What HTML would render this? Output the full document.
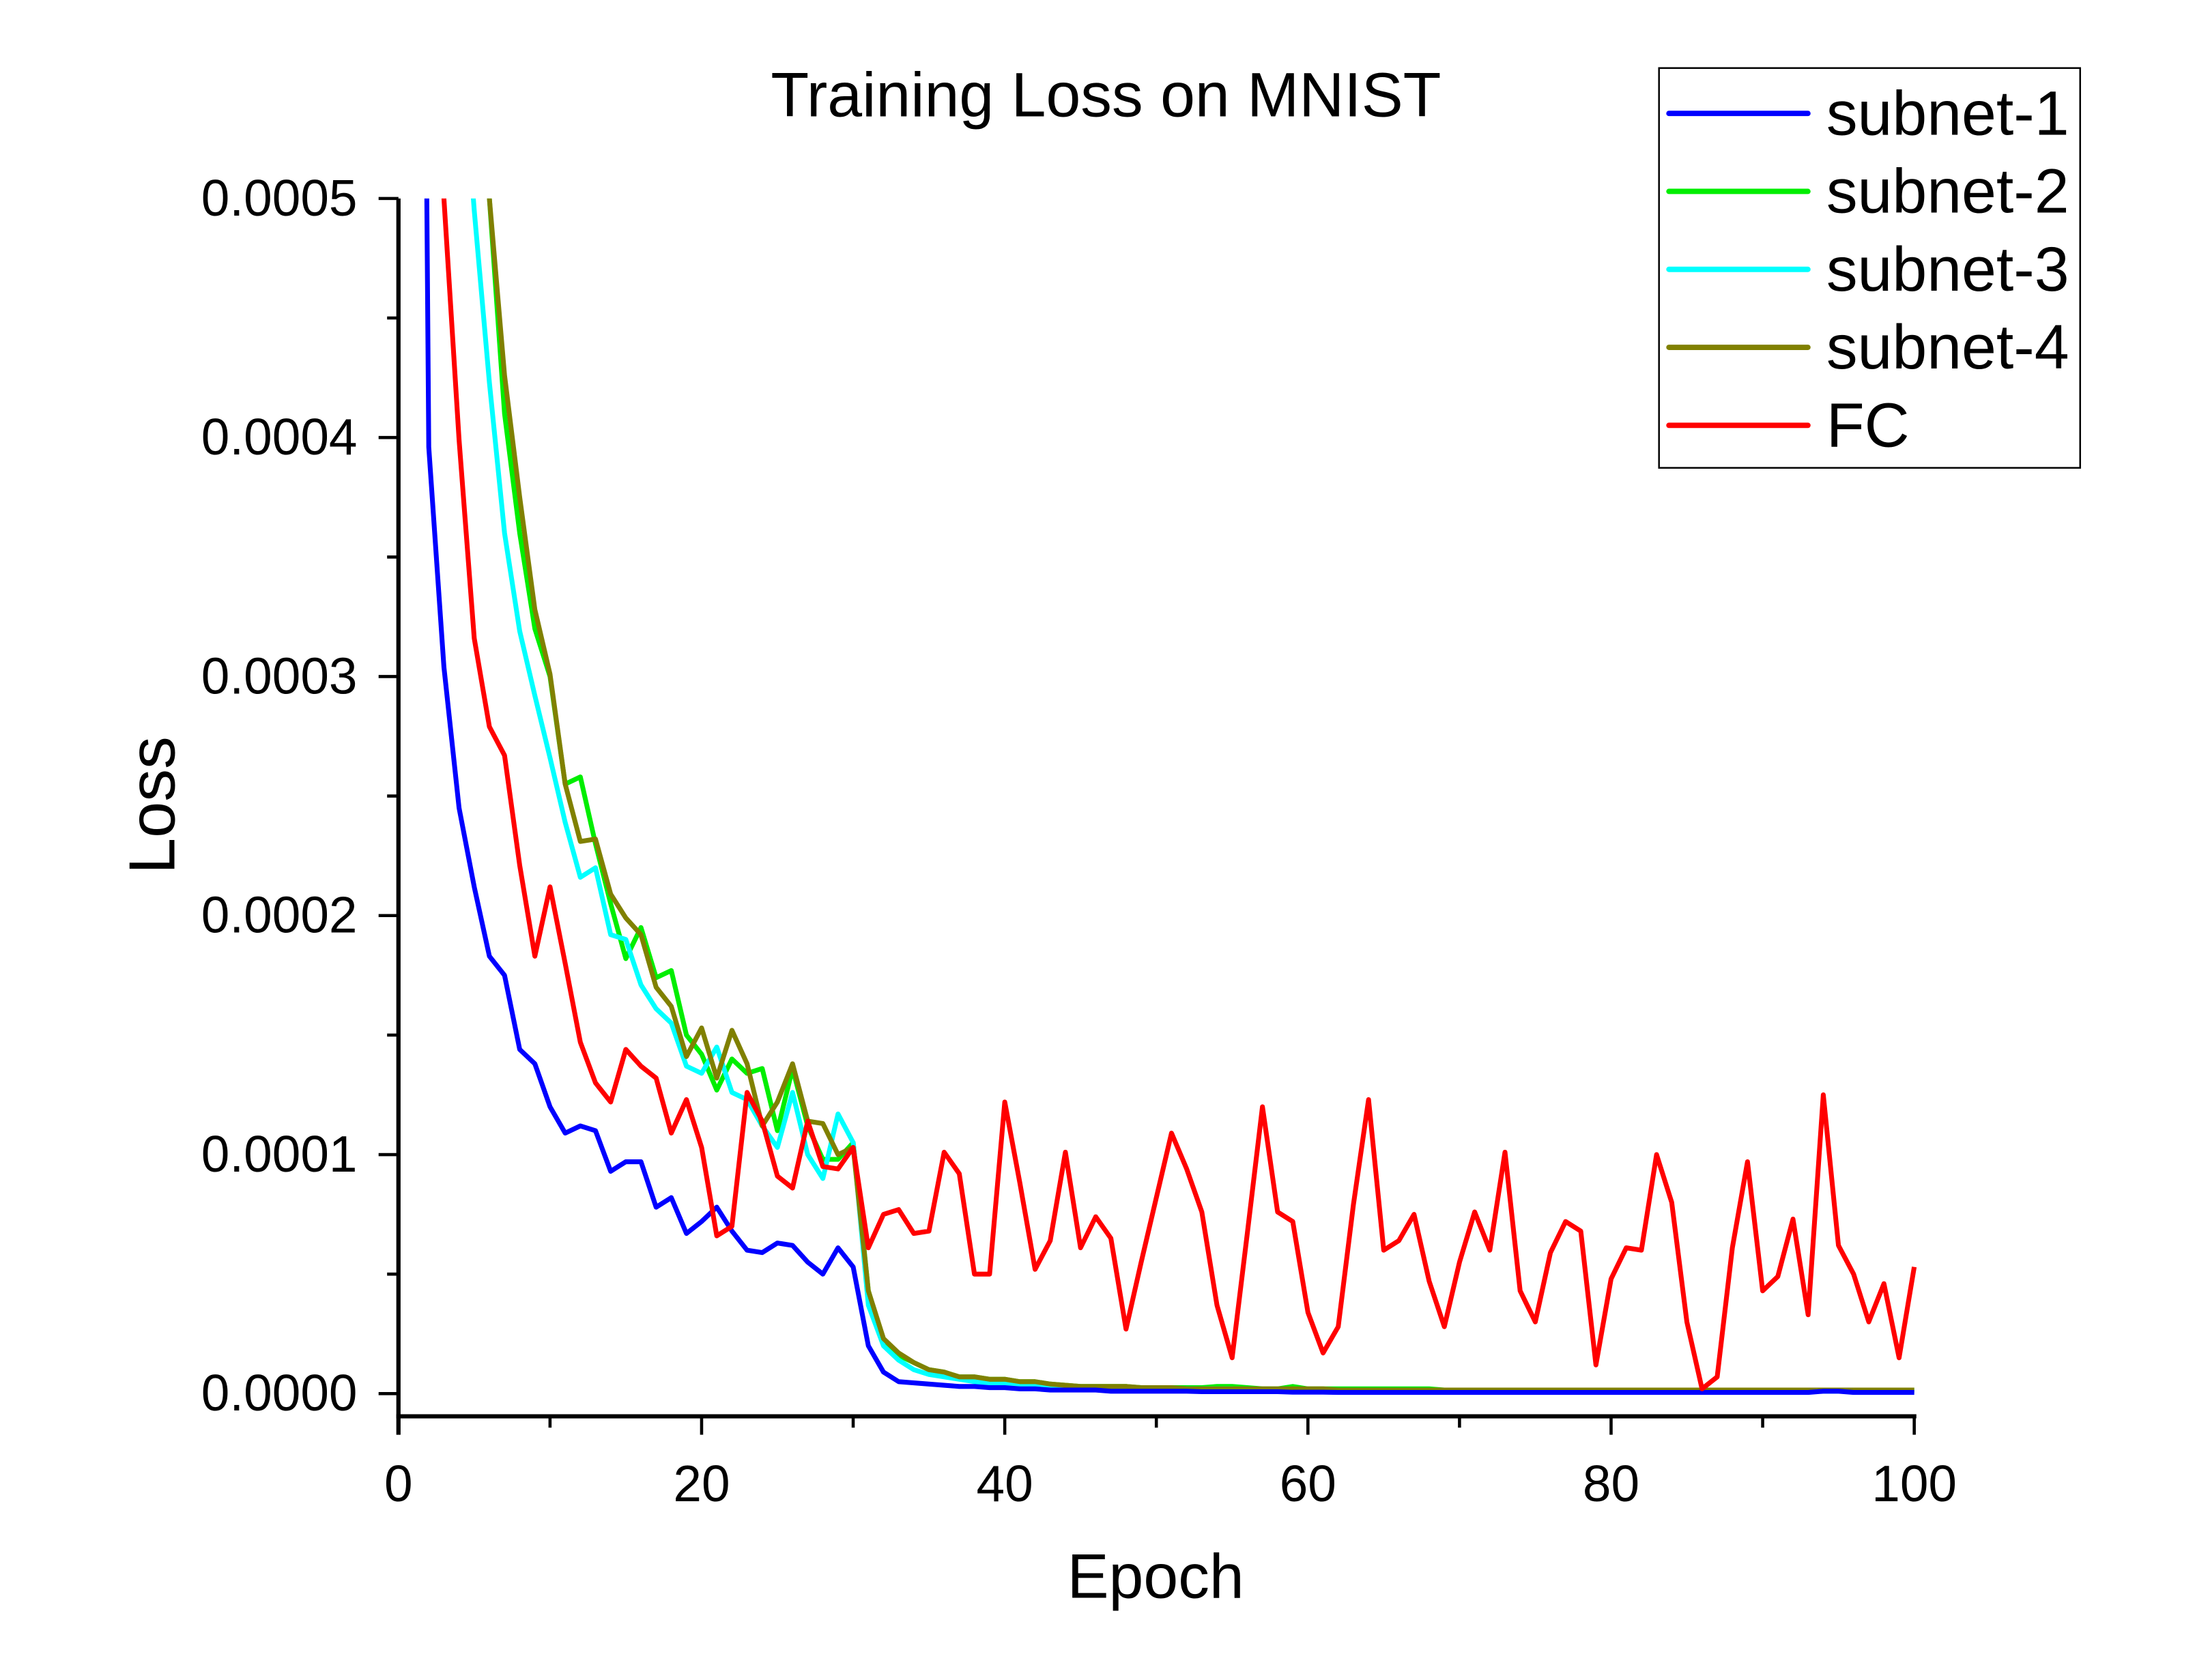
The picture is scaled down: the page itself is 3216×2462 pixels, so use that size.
<!DOCTYPE html>
<html><head><meta charset="utf-8"><style>
html,body{margin:0;padding:0;background:#fff;}
svg{display:block;font-family:"Liberation Sans",Arial,sans-serif;}
</style></head><body>
<svg id="chart" width="3216" height="2462" viewBox="0 0 1548 1185" preserveAspectRatio="none" xmlns="http://www.w3.org/2000/svg">
<defs><clipPath id="plotclip"><rect x="281" y="140" width="1075" height="860"/></clipPath></defs>
<rect width="1548" height="1185" fill="#fff"/>
<text x="780" y="82" font-size="44" text-anchor="middle">Training Loss on MNIST</text>
<g id="axes"></g>
<g id="series" clip-path="url(#plotclip)"></g>
<text x="815" y="1127" font-size="44" text-anchor="middle">Epoch</text>
<text transform="translate(123,568) rotate(-90)" font-size="46" text-anchor="middle">Loss</text>
<g>
<rect x="1170" y="48" width="297" height="282" fill="#fff" stroke="#000" stroke-width="1.2"/>
<g id="legend-items"></g>
</g>
</svg>
<script>
const epochs = Array.from({length:100},(_, i)=>i+1);
const xTicks = [0,20,40,60,80,100];
const yTicks = [0,0.0001,0.0002,0.0003,0.0004,0.0005];
const yTickLabels = ["0.0000","0.0001","0.0002","0.0003","0.0004","0.0005"];
const seriesNames = ["subnet-1","subnet-2","subnet-3","subnet-4","FC"];
const seriesColors = ["#0000ff","#00ee00","#00ffff","#808000","#ff0000"];
// values in units of 1e-5
const subnet1 = [120,39.6,30.4,24.5,21.2,18.3,17.5,14.4,13.8,12.0,10.9,11.2,11.0,9.3,9.7,9.7,7.8,8.2,6.7,7.2,7.8,6.8,6.0,5.9,6.3,6.2,5.5,5.0,6.1,5.3,2.0,0.9,0.5,0.45,0.4,0.35,0.3,0.3,0.25,0.25,0.2,0.2,0.15,0.15,0.15,0.15,0.1,0.1,0.1,0.1,0.1,0.1,0.08,0.08,0.08,0.08,0.08,0.08,0.06,0.06,0.06,0.05,0.05,0.05,0.05,0.05,0.05,0.05,0.05,0.05,0.05,0.05,0.05,0.05,0.05,0.05,0.05,0.05,0.05,0.05,0.05,0.05,0.05,0.05,0.05,0.05,0.05,0.05,0.05,0.05,0.05,0.05,0.05,0.1,0.1,0.05,0.05,0.05,0.05,0.05];
const subnet2 = [150,120,100,80,62,50,41,36,32,30,25.5,25.8,23,20.5,18.2,19.5,17.4,17.7,15,14.2,12.7,14,13.4,13.6,11,13.6,11.2,9.8,9.8,10.5,4.3,2.2,1.6,1.3,1.0,0.9,0.7,0.7,0.6,0.6,0.5,0.5,0.4,0.35,0.3,0.3,0.3,0.3,0.25,0.25,0.25,0.25,0.25,0.3,0.3,0.25,0.2,0.2,0.3,0.2,0.2,0.2,0.2,0.2,0.2,0.2,0.2,0.2,0.15,0.15,0.15,0.15,0.15,0.15,0.15,0.15,0.15,0.15,0.15,0.15,0.15,0.15,0.15,0.15,0.15,0.15,0.15,0.15,0.15,0.15,0.15,0.15,0.15,0.15,0.15,0.15,0.15,0.15,0.15,0.15];
const subnet3 = [140,100,75,58,49.5,42.3,36,31.9,29.2,26.6,23.9,21.6,22,19.2,19,17.1,16.1,15.5,13.7,13.4,14.5,12.6,12.3,11.2,10.3,12.6,10,9,11.7,10.5,3.7,2.0,1.4,1.0,0.8,0.7,0.6,0.5,0.4,0.4,0.3,0.3,0.25,0.25,0.2,0.2,0.2,0.2,0.2,0.2,0.2,0.2,0.2,0.2,0.2,0.15,0.15,0.15,0.15,0.15,0.1,0.1,0.1,0.1,0.1,0.1,0.1,0.1,0.1,0.1,0.1,0.1,0.1,0.1,0.1,0.1,0.1,0.1,0.1,0.1,0.1,0.1,0.1,0.1,0.1,0.1,0.1,0.1,0.1,0.1,0.1,0.1,0.1,0.1,0.1,0.1,0.1,0.1,0.1,0.1];
const subnet4 = [150,120,100,80,62,50,42.6,37.5,32.8,30.1,25.5,23.1,23.2,20.9,19.9,19.2,17.0,16.2,14.1,15.3,13.2,15.2,13.8,11.2,12.2,13.8,11.4,11.3,10.0,10.3,4.3,2.3,1.7,1.3,1.0,0.9,0.7,0.7,0.6,0.6,0.5,0.5,0.4,0.35,0.3,0.3,0.3,0.3,0.25,0.25,0.25,0.2,0.2,0.2,0.2,0.2,0.2,0.2,0.2,0.2,0.2,0.15,0.15,0.15,0.15,0.15,0.15,0.15,0.15,0.15,0.15,0.15,0.15,0.15,0.15,0.15,0.15,0.15,0.15,0.15,0.15,0.15,0.15,0.15,0.15,0.15,0.15,0.15,0.15,0.15,0.15,0.15,0.15,0.15,0.15,0.15,0.15,0.15,0.15,0.15];
const fc = [120,80,50,39.9,31.6,27.9,26.7,22.1,18.3,21.2,18,14.7,13,12.2,14.4,13.7,13.2,10.9,12.3,10.3,6.6,7,12.6,11.4,9.1,8.6,11.4,9.5,9.4,10.3,6.1,7.5,7.7,6.7,6.8,10.1,9.2,5,5,12.2,8.8,5.2,6.4,10.1,6.1,7.4,6.5,2.7,5.5,8.2,10.9,9.4,7.6,3.7,1.5,6.7,12,7.6,7.2,3.4,1.7,2.8,7.9,12.3,6,6.4,7.5,4.7,2.8,5.5,7.6,6,10.1,4.3,3,5.9,7.2,6.8,1.2,4.8,6.1,6,10,8,3,0.2,0.7,6.1,9.7,4.3,4.9,7.3,3.3,12.5,6.2,5,3,4.6,1.5,5.3];
const seriesData = [subnet1,subnet2,subnet3,subnet4,fc];

const NS="http://www.w3.org/2000/svg";
const X0=281,X1=1350,Y0=983,Y1=140,XAX=999;
function xs(v){return X0+(v/100)*(X1-X0);}
function ys(v){return Y0-(v/0.0005)*(Y0-Y1);}
function mk(tag,attrs,parent){const e=document.createElementNS(NS,tag);for(const k in attrs)e.setAttribute(k,attrs[k]);parent.appendChild(e);return e;}
const axes=document.getElementById('axes');
let el=mk('line',{x1:X0,y1:Y1,x2:X0,y2:XAX+13,stroke:'#000','stroke-width':3},axes);


el=mk('line',{x1:X0-1.5,y1:XAX,x2:X1+1.5,y2:XAX,stroke:'#000','stroke-width':3},axes);


for(let v=10;v<=100;v+=10){
  const major=(v%20===0);
  el=mk('line',{x1:xs(v),y1:XAX,x2:xs(v),y2:XAX+(major?13:8),stroke:'#000','stroke-width':2.2},axes);
  
  
}
xTicks.forEach(v=>{
  el=mk('text',{x:xs(v),y:1059,'font-size':36,'text-anchor':'middle'},axes);
  el.textContent=String(v);
  
  
});
for(let i=0;i<=10;i++){
  const v=i*0.00005, major=(i%2===0);
  el=mk('line',{x1:X0-(major?14:8),y1:ys(v),x2:X0,y2:ys(v),stroke:'#000','stroke-width':2.2},axes);
  
  
}
yTicks.forEach((v,i)=>{
  el=mk('text',{x:252,y:ys(v)+12,'font-size':36,'text-anchor':'end'},axes);
  el.textContent=yTickLabels[i];
  
  
});
const sg=document.getElementById('series');
const order=[1,2,3,0,4];
order.forEach(si=>{
  const d=seriesData[si].map((v,i)=>(i?'L':'M')+xs(epochs[i]).toFixed(2)+','+ys(v*1e-5).toFixed(2)).join(' ');
  el=mk('path',{d:d,fill:'none',stroke:seriesColors[si],'stroke-width':3.4,'stroke-linejoin':'round'},sg);
  
  
});
const lg=document.getElementById('legend-items');
seriesNames.forEach((n,i)=>{
  const y=80+i*55;
  el=mk('line',{x1:1177,y1:y,x2:1275,y2:y,stroke:seriesColors[i],'stroke-width':3.8,'stroke-linecap':'round'},lg);
  
  
  el=mk('text',{x:1288,y:y+15,'font-size':44},lg);
  el.textContent=n;
  
  
});
</script>
</body></html>
